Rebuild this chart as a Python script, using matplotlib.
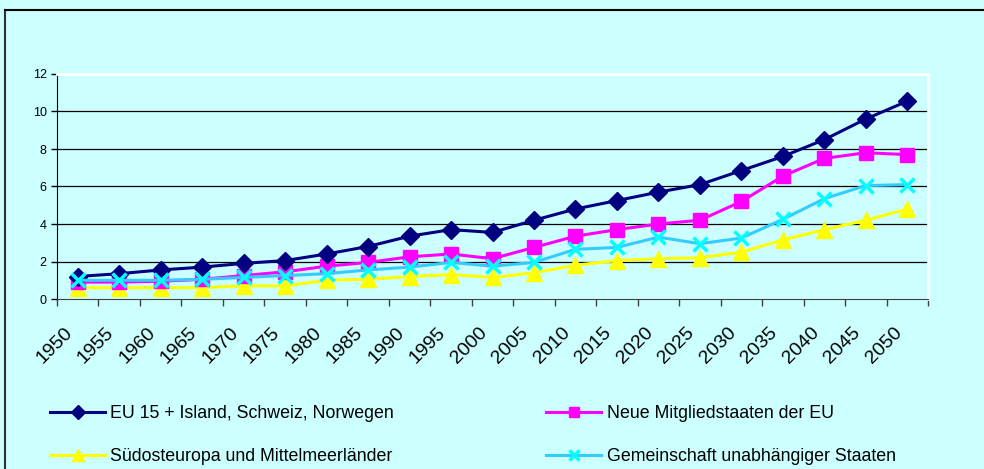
import numpy as np
import matplotlib
matplotlib.use("Agg")
import matplotlib.pyplot as plt
import matplotlib.transforms as mtransforms
from matplotlib.lines import Line2D

plt.rcParams['font.family'] = ['Liberation Sans', 'DejaVu Sans']

# data
years = [str(y) for y in range(1950, 2051, 5)]
eu15 = [1.2, 1.35, 1.55, 1.7, 1.9, 2.05, 2.4, 2.8, 3.35, 3.7, 3.55,
        4.2, 4.8, 5.25, 5.7, 6.1, 6.85, 7.6, 8.5, 9.6, 10.55]
neue = [0.9, 0.9, 0.95, 1.05, 1.25, 1.45, 1.75, 1.95, 2.25, 2.4, 2.15,
        2.75, 3.35, 3.7, 4.0, 4.2, 5.2, 6.55, 7.5, 7.8, 7.7]
suedost = [0.6, 0.6, 0.6, 0.6, 0.7, 0.7, 1.0, 1.05, 1.2, 1.3, 1.15,
           1.4, 1.8, 2.05, 2.15, 2.2, 2.5, 3.15, 3.7, 4.2, 4.8]
gus = [1.0, 1.0, 1.0, 1.05, 1.15, 1.25, 1.35, 1.55, 1.7, 1.95, 1.75,
       1.95, 2.65, 2.75, 3.3, 2.95, 3.25, 4.25, 5.35, 6.05, 6.1]

bg = '#CCFFFF'
fig = plt.figure(figsize=(9.84, 4.69), dpi=100, facecolor=bg)
ax = fig.add_axes([57/984, 170/469, 871/984, 225/469])
ax.set_facecolor(bg)

pos = np.arange(len(years)) + 0.5

l1, = ax.plot(pos, eu15, color='#000080', lw=2.2, marker='D', ms=9,
              mfc='#000080', mec='#000080', zorder=5)
l2, = ax.plot(pos, neue, color='#FF00FF', lw=2.2, marker='s', ms=10,
              mfc='#FF00FF', mec='#FF00FF', zorder=4)
l3, = ax.plot(pos, suedost, color='#FFFF00', lw=2.2, marker='^', ms=11,
              mfc='#FFFF00', mec='#FFFF00', zorder=3)
l4, = ax.plot(pos, gus, color='#33CCFF', lw=2.2, marker='x', ms=10,
              mec='#00FFFF', mew=2.5, zorder=6)

ax.set_xlim(0, len(years))
ax.set_ylim(0, 12)
ax.set_yticks(range(0, 13, 2))
ax.tick_params(axis='y', labelsize=9, length=4, direction='out', width=1)
ax.set_yticklabels([str(v) for v in range(0, 13, 2)])
for v in range(2, 12, 2):
    ax.axhline(v, color='black', lw=0.9, zorder=1)

ax.set_xticks(np.arange(len(years) + 1))
ax.set_xticklabels([])
ax.tick_params(axis='x', which='major', length=5, direction='out', width=1, color='#404040')
ax.set_xticks(pos, minor=True)
ax.set_xticklabels(years, minor=True, rotation=45, ha='right', va='top',
                   rotation_mode='anchor', fontsize=14)
ax.tick_params(axis='x', which='minor', length=0, pad=14)
shift = mtransforms.ScaledTranslation(-14/100, -6/100, fig.dpi_scale_trans)
for lab in ax.xaxis.get_minorticklabels():
    lab.set_transform(lab.get_transform() + shift)

ax.spines['left'].set_color('black')
ax.spines['bottom'].set_color('#404040')
ax.spines['top'].set_color('white')
ax.spines['right'].set_color('white')
ax.spines['top'].set_linewidth(2)
ax.spines['right'].set_linewidth(2)

handles = [l1, l3, l2, l4]
labels = ['EU 15 + Island, Schweiz, Norwegen', 'Südosteuropa und Mittelmeerländer',
          'Neue Mitgliedstaaten der EU', 'Gemeinschaft unabhängiger Staaten']
fig.legend(handles, labels, loc='upper left', bbox_to_anchor=(50/984, 1 - 405/469),
           ncol=2, frameon=False, fontsize=12.8, handlelength=3.1, handletextpad=0.3,
           columnspacing=8.55, labelspacing=1.45, borderpad=0, borderaxespad=0,
           markerscale=0.75)

# outer frame (top and left edges visible)
fig.add_artist(Line2D([5/984, 5/984], [0, 1 - 10/469], color='#303030', lw=1.5,
                      transform=fig.transFigure))
fig.add_artist(Line2D([5/984, 1], [1 - 10/469, 1 - 10/469], color='black', lw=1.5,
                      transform=fig.transFigure))

fig.savefig('out.png', dpi=100, facecolor=bg)
